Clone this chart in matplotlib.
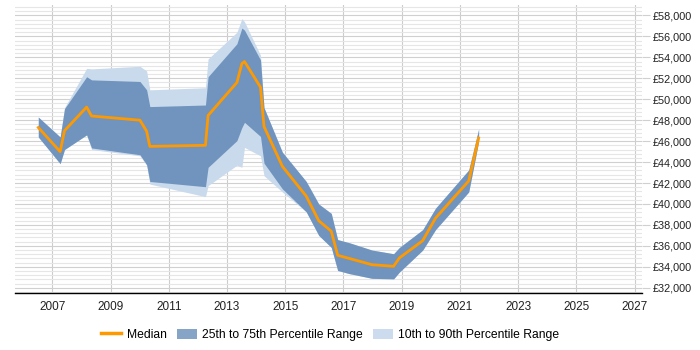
import matplotlib.pyplot as plt
from matplotlib.ticker import MultipleLocator, FuncFormatter
from matplotlib.patches import Patch
from matplotlib.lines import Line2D

plt.rcParams['font.family'] = ['Liberation Sans', 'DejaVu Sans']

# Time points (decimal years)
years = [2006.52, 2007.27, 2007.42, 2008.18, 2008.35, 2010.01, 2010.24, 2010.35,
         2012.26, 2012.35, 2013.34, 2013.51, 2013.60, 2014.15, 2014.27, 2014.90,
         2015.72, 2016.15, 2016.58, 2016.80, 2017.20, 2017.98, 2018.72, 2018.92,
         2019.72, 2020.16, 2021.30, 2021.64]

median = [47300, 45000, 47000, 49250, 48400, 48000, 46950, 45500,
          45600, 48450, 51600, 53400, 53600, 51150, 47400, 43600,
          40750, 38400, 37400, 35100, 34800, 34200, 34050, 34850,
          36500, 38650, 42200, 46300]

p25 = [46400, 43850, 45200, 46600, 45350, 44700, 43750, 42150,
       41650, 43500, 46050, 47300, 47800, 46450, 43900, 41450,
       39250, 37000, 35850, 33650, 33350, 32900, 32850, 33500,
       35600, 37550, 41150, 45950]

p75 = [48300, 46400, 49100, 52150, 51850, 51700, 50900, 49300,
       49450, 52150, 55300, 56800, 56600, 53750, 49200, 44950,
       42150, 40000, 39100, 36600, 36300, 35600, 35250, 35850,
       37550, 39600, 43250, 47150]

p10 = [46400, 43850, 45200, 46600, 45200, 44600, 43700, 41900,
       40700, 41750, 43700, 43500, 45400, 44600, 42700, 41150,
       39250, 37000, 35850, 33650, 33350, 32900, 32850, 33500,
       35600, 37550, 41150, 45950]

p90 = [48300, 46400, 49200, 52950, 52900, 53150, 52700, 50900,
       51100, 53850, 56400, 57700, 57400, 54200, 49200, 44950,
       42150, 40000, 39100, 36600, 36300, 35600, 35250, 35850,
       37550, 39600, 43250, 47150]

x_ticks = [2007, 2009, 2011, 2013, 2015, 2017, 2019, 2021, 2023, 2025, 2027]

fig = plt.figure(figsize=(7, 3.5), dpi=100)
ax = fig.add_axes([15 / 700, 57 / 350, 627 / 700, 288 / 350])

ax.fill_between(years, p10, p90, color='#C9DAEC', linewidth=0, zorder=2)
ax.fill_between(years, p25, p75, color='#7094BE', linewidth=0, zorder=3)
ax.plot(years, median, color='#FF9900', linewidth=2, zorder=4)

ax.set_xlim(2005.72, 2027.25)
ax.set_ylim(31500, 59000)

ax.set_xticks(x_ticks)
ax.set_xticklabels([str(y) for y in x_ticks])

ax.yaxis.set_major_locator(MultipleLocator(2000))
ax.yaxis.set_minor_locator(MultipleLocator(400))
ax.yaxis.set_major_formatter(FuncFormatter(lambda v, p: f'£{int(v):,}'))
ax.yaxis.tick_right()

ax.grid(axis='x', which='major', color='#CCCCCC', linewidth=0.8, zorder=0)
ax.grid(axis='y', which='major', color='#D0D0D0', linewidth=0.8, zorder=0)
ax.grid(axis='y', which='minor', color='#E6E6E6', linewidth=0.8, zorder=0)
ax.set_axisbelow(True)

for s in ['left', 'right', 'top']:
    ax.spines[s].set_visible(False)
ax.spines['bottom'].set_color('black')
ax.spines['bottom'].set_linewidth(1)

ax.tick_params(axis='x', length=0, pad=6, labelsize=8.5, colors='#222222')
ax.tick_params(axis='y', which='major', length=6, color='#D0D0D0', pad=2, labelsize=7.8, labelcolor='#222222')
ax.tick_params(axis='y', which='minor', length=0)

handles = [
    Line2D([0], [0], color='#FF9900', linewidth=2.5),
    Patch(facecolor='#86A4C6', edgecolor='none'),
    Patch(facecolor='#CCDCEE', edgecolor='none'),
]
labels = ['Median', '25th to 75th Percentile Range', '10th to 90th Percentile Range']
fig.legend(handles, labels, loc='center', bbox_to_anchor=(0.472, 0.043), ncol=3,
           frameon=False, fontsize=8.7, handlelength=1.65, handleheight=1.0,
           columnspacing=0.85, handletextpad=0.45)

fig.savefig('out.png', dpi=100)
